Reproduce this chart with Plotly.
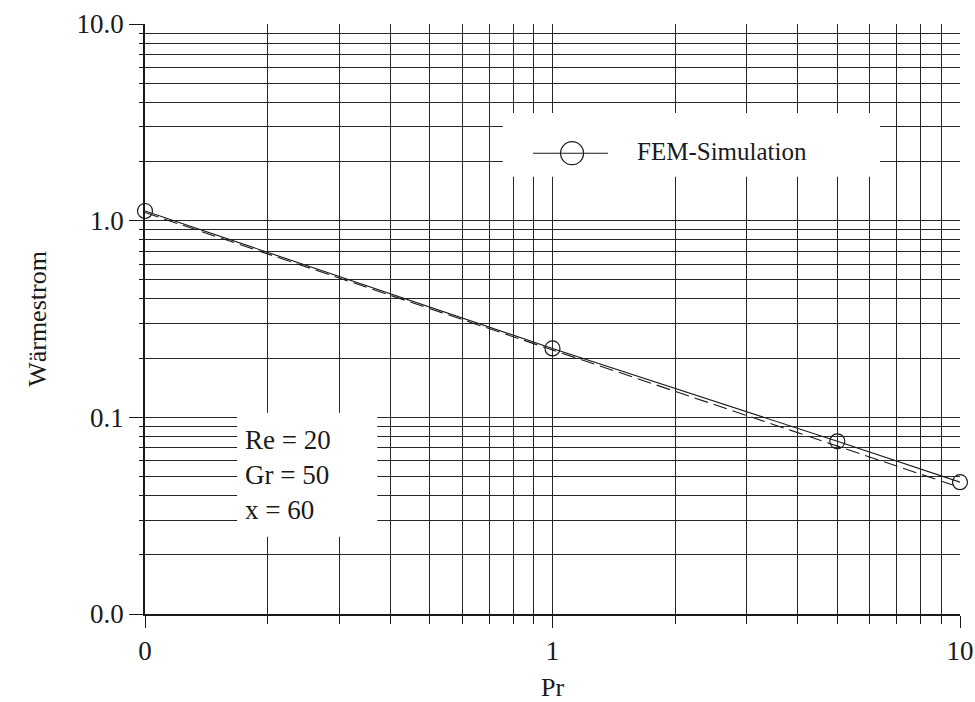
import plotly.graph_objects as go

# ---- data ----
pr_values = [0.1, 1.0, 5.0, 10.0]
heat_flow = [1.12, 0.224, 0.0755, 0.0468]

fit_pr = [0.1, 10.0]
fit_heat = [1.10, 0.0440]

x_major = [0.1, 1, 10]
x_major_text = ["0", "1", "10"]
y_major = [0.01, 0.1, 1, 10]
y_major_text = ["0.0", "0.1", "1.0", "10.0"]
x_minor = [m * d for d in (0.1, 1) for m in range(2, 10)]
y_minor = [m * d for d in (0.01, 0.1, 1) for m in range(2, 10)]

legend_label = "FEM-Simulation"
params_text = "Re = 20<br>Gr = 50<br>x = 60"

FONT = "Liberation Serif, Times New Roman, serif"
INK = "#1a1a1a"
GRID = "#262626"

fig = go.Figure()

fig.add_trace(go.Scatter(
    x=fit_pr, y=fit_heat, mode="lines",
    line=dict(color=INK, width=1.1, dash="14px,6px"),
    showlegend=False, hoverinfo="skip", cliponaxis=False,
))
fig.add_trace(go.Scatter(
    x=pr_values, y=heat_flow, mode="lines+markers",
    line=dict(color=INK, width=1.1),
    marker=dict(symbol="circle-open", size=15, color=INK, line=dict(width=1.2)),
    name=legend_label, showlegend=False, cliponaxis=False,
))

axis_common = dict(
    type="log", automargin=False,
    showline=True, linecolor=INK, linewidth=1.6,
    ticks="outside", tickcolor=INK, tickwidth=1.4,
    showgrid=True, gridcolor=GRID, gridwidth=1.3,
    zeroline=False, mirror=False,
    tickfont=dict(family=FONT, size=27, color=INK),
    title_font=dict(family=FONT, size=26, color=INK),
)

fig.update_xaxes(
    **axis_common,
    range=[-1, 1],
    tickmode="array", tickvals=x_major, ticktext=x_major_text, ticklen=12,
    minor=dict(tickmode="array", tickvals=x_minor, ticks="outside", ticklen=8,
               tickcolor=INK, tickwidth=1.3, showgrid=True, gridcolor=GRID, gridwidth=1.3),
    title_text="Pr", title_standoff=15,
)
fig.update_yaxes(
    **axis_common,
    range=[-2, 1],
    tickmode="array", tickvals=y_major, ticktext=y_major_text, ticklen=14,
    minor=dict(tickmode="array", tickvals=y_minor, ticks="outside", ticklen=4,
               tickcolor=INK, tickwidth=1.3, showgrid=True, gridcolor=GRID, gridwidth=1.3),
    title_text="Wärmestrom", title_standoff=22,
)

shapes = [
    # white box behind the legend
    dict(type="rect", xref="paper", yref="paper", x0=0.439, x1=0.902, y0=0.741, y1=0.849,
         fillcolor="white", line=dict(width=0), layer="above"),
    # white box behind the parameter text
    dict(type="rect", xref="paper", yref="paper", x0=0.113, x1=0.285, y0=0.131, y1=0.341,
         fillcolor="white", line=dict(width=0), layer="above"),
    # legend sample line
    dict(type="line", xref="paper", yref="paper", x0=0.476, x1=0.568, y0=0.781, y1=0.781,
         line=dict(color=INK, width=1.1), layer="above"),
    # legend sample circle
    dict(type="circle", xref="paper", yref="paper", xsizemode="pixel", ysizemode="pixel",
         xanchor=0.524, yanchor=0.781, x0=-11.5, x1=11.5, y0=-11.5, y1=11.5,
         line=dict(color=INK, width=1.2), fillcolor="rgba(0,0,0,0)", layer="above"),
]

annotations = [
    dict(xref="paper", yref="paper", x=0.601, y=0.784, xanchor="left", yanchor="middle",
         text=legend_label, showarrow=False, font=dict(family=FONT, size=25, color=INK)),
    dict(xref="paper", yref="paper", x=0.120, y=0.236, xanchor="left", yanchor="middle",
         text=params_text, showarrow=False, align="left",
         font=dict(family=FONT, size=27, color=INK)),
]

fig.update_layout(
    width=975, height=702,
    margin=dict(l=145, r=15, t=24, b=88),
    paper_bgcolor="white", plot_bgcolor="white",
    showlegend=False,
    shapes=shapes, annotations=annotations,
    font=dict(family=FONT, color=INK),
)

fig.write_html("out.html")
